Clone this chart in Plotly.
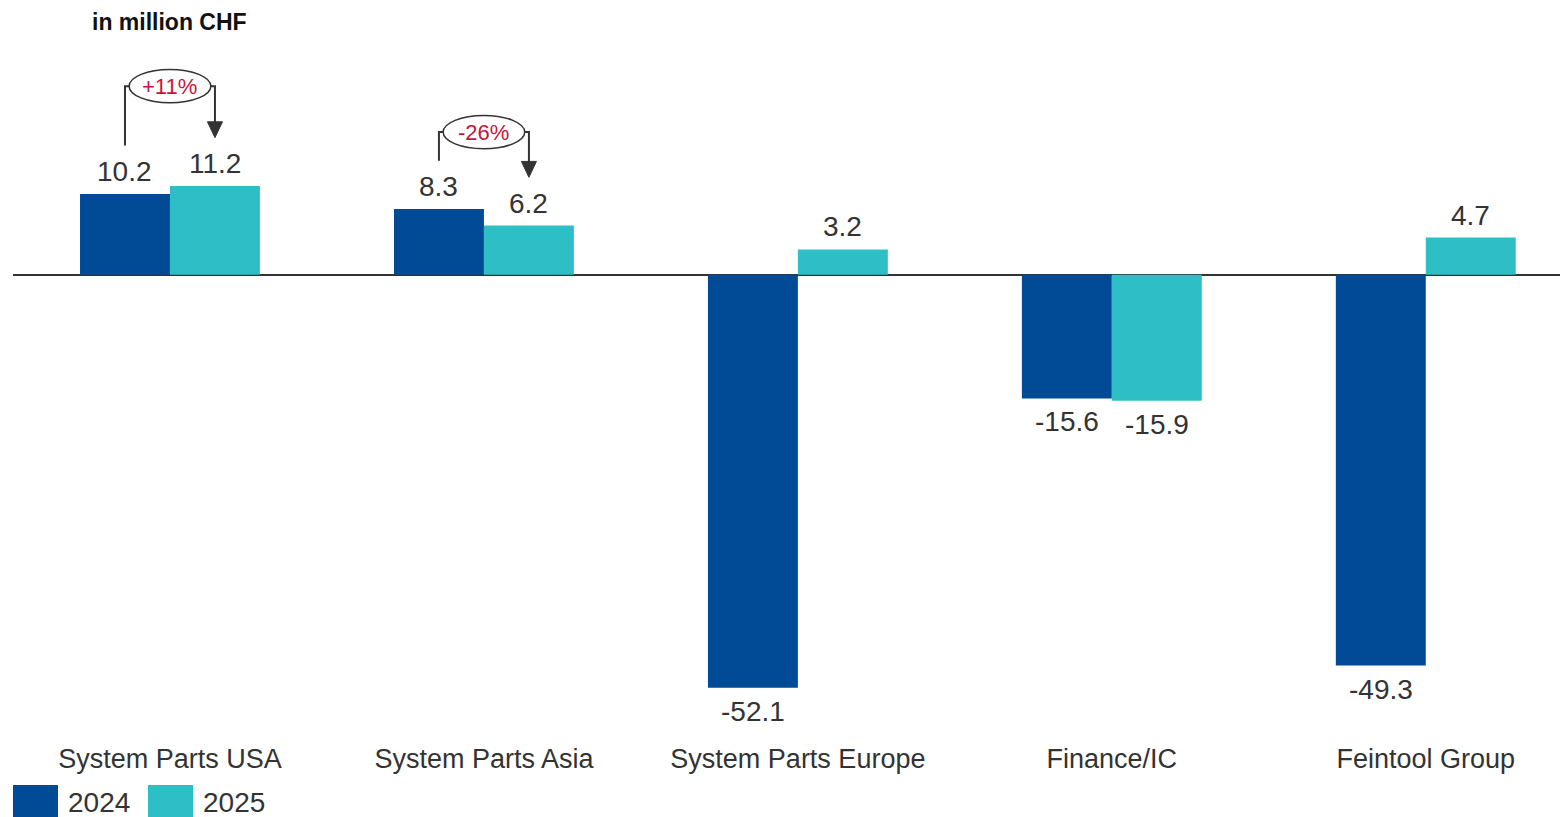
import plotly.graph_objects as go

categories = ["System Parts USA", "System Parts Asia", "System Parts Europe", "Finance/IC", "Feintool Group"]
values_2024 = [10.2, 8.3, -52.1, -15.6, -49.3]
values_2025 = [11.2, 6.2, 3.2, -15.9, 4.7]
series_names = ["2024", "2025"]
change_labels = ["+11%", "-26%"]          # for first two categories
change_bracket_top = [23.8, 18.0]          # y level of bracket (data units)

C24 = "#004A96"
C25 = "#2EBFC6"
TXT = "#333333"
RED = "#C8143C"
FONT = "Liberation Sans, Arial, sans-serif"

# figure geometry (page has 8px body margin)
W, H = 1560, 809
ML, MT, MB = 5, 32, 77
PW = W - ML
PH = H - MT - MB

def px_x(x):   # figure pixel -> paper x
    return (x - ML) / PW

def px_y(y):   # figure pixel -> paper y
    return 1 - (y - MT) / PH

xs = list(range(len(categories)))
off = 0.1433  # bar centre offset in category units

fig = go.Figure()
annotations = []
for k, (name, vals, col) in enumerate([(series_names[0], values_2024, C24),
                                       (series_names[1], values_2025, C25)]):
    fig.add_trace(go.Bar(
        x=xs, y=vals, name=name, marker=dict(color=col, line=dict(width=0)),
    ))
    sign = -1 if k == 0 else 1
    for i, v in zip(xs, vals):
        annotations.append(dict(
            x=i + sign * off, y=v, xref="x", yref="y", text=f"{v:.1f}", showarrow=False,
            yanchor="bottom" if v >= 0 else "top", yshift=5 if v >= 0 else -6,
            font=dict(size=28, color=TXT, family=FONT)))

shapes = []
for i, lab in enumerate(change_labels):
    v0 = values_2024[i]
    v1 = values_2025[i]
    top = change_bracket_top[i]
    xl = i - off
    xr = i + off
    start = v0 + 6.1
    tip = v1 + 6.1
    ecx = i
    erx = 0.13
    ery = 2.1
    shapes.append(dict(type="path", xref="x", yref="y",
                       path=f"M{xl},{start} L{xl},{top} L{ecx-erx},{top}",
                       line=dict(color=TXT, width=2)))
    shapes.append(dict(type="path", xref="x", yref="y",
                       path=f"M{ecx+erx},{top} L{xr},{top} L{xr},{tip+1.6}",
                       line=dict(color=TXT, width=2)))
    shapes.append(dict(type="path", xref="x", yref="y",
                       path=f"M{xr-0.024},{tip+2.0} L{xr+0.024},{tip+2.0} L{xr},{tip} Z",
                       fillcolor=TXT, line=dict(color=TXT, width=1)))
    shapes.append(dict(type="circle", xref="x", yref="y",
                       x0=ecx-erx, x1=ecx+erx, y0=top-ery, y1=top+ery,
                       line=dict(color=TXT, width=1.5), fillcolor="white"))
    annotations.append(dict(x=ecx, y=top, xref="x", yref="y", text=lab, showarrow=False,
                            font=dict(size=22, color=RED, family=FONT)))

# title
annotations.append(dict(xref="paper", yref="paper", x=px_x(82), y=px_y(14),
                        text="<b>in million CHF</b>", showarrow=False,
                        xanchor="left", yanchor="middle",
                        font=dict(size=23, color="#111111", family=FONT)))

# legend (custom boxes)
leg_items = [(series_names[0], C24, 5), (series_names[1], C25, 140)]
for name, col, px in leg_items:
    shapes.append(dict(type="rect", xref="paper", yref="paper",
                       x0=px_x(px), x1=px_x(px + 45),
                       y0=px_y(H + 2), y1=px_y(777),
                       fillcolor=col, line=dict(width=0)))
    annotations.append(dict(xref="paper", yref="paper", x=px_x(px + 53), y=px_y(794),
                            text=name, showarrow=False, xanchor="left", yanchor="middle",
                            font=dict(size=28, color=TXT, family=FONT)))

fig.update_layout(
    width=W, height=H,
    margin=dict(l=ML, r=0, t=MT, b=MB),
    paper_bgcolor="white", plot_bgcolor="white",
    barmode="group", bargap=0.427, bargroupgap=0,
    showlegend=False,
    font=dict(family=FONT, color=TXT),
    shapes=shapes, annotations=annotations,
    xaxis=dict(range=[-0.5, 4.453], tickmode="array", tickvals=xs, ticktext=categories,
               showgrid=False, showline=False, zeroline=False, ticks="",
               tickfont=dict(size=27, color=TXT, family=FONT)),
    yaxis=dict(range=[-58.7, 29.62], showgrid=False, showticklabels=False, ticks="",
               zeroline=True, zerolinecolor="#333333", zerolinewidth=2, showline=False),
)

fig.write_html("out.html")
